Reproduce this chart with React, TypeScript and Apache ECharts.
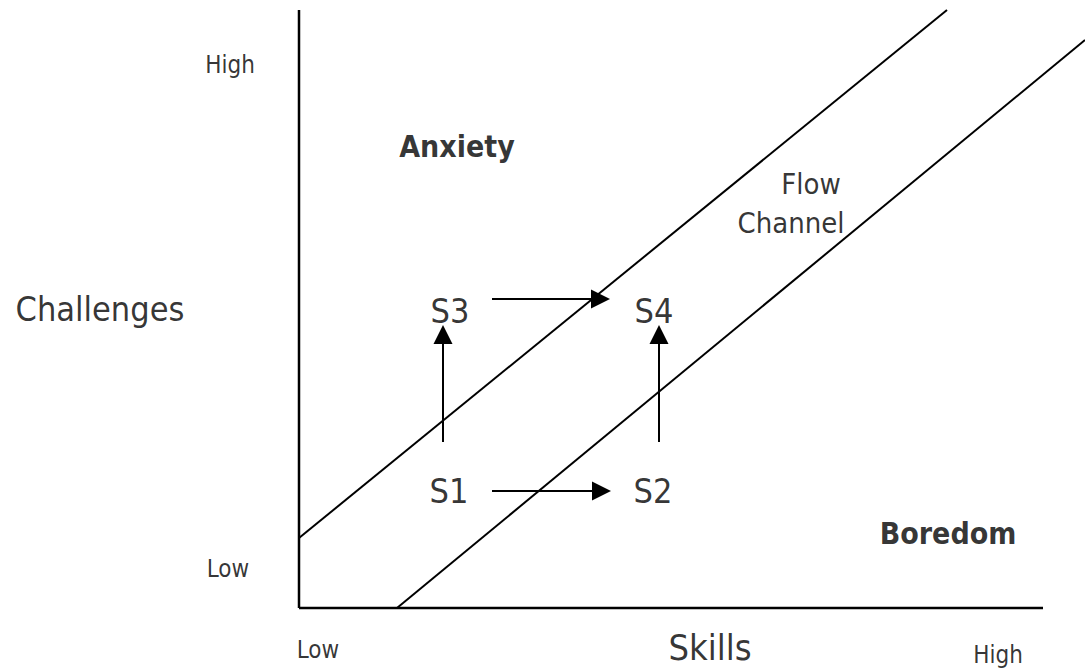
import React, { useEffect, useRef } from "react";
import * as echarts from "echarts";

const FONT = "'DejaVu Sans Condensed', 'DejaVu Sans', sans-serif";

// Data space: x = skills, y = challenges (origin at the axes' corner)
const X_MAX = 786;
const Y_MAX = 598;

const xAxisLine: number[][] = [[0, 0], [744, 0]];
const yAxisLine: number[][] = [[0, 0], [0, 598]];
const upperBoundary: number[][] = [[0, 70], [648, 598]];
const lowerBoundary: number[][] = [[98, 0], [786, 568]];

// arrows: start point and tip point
const arrowStarts: number[][] = [[193, 117], [193, 309], [144, 166], [360, 166]];
const arrowTips: number[][] = [[312, 117], [311, 309], [144, 283], [360, 283]];
const HEAD = 19;

const labelTexts = ["High", "Low", "Low", "High", "Challenges", "Skills", "Anxiety", "Flow", "Channel", "Boredom", "S1", "S2", "S3", "S4"];
const labelX = [-69, -71, 19, 699, -199, 411, 158, 512, 492, 649, 150, 354, 151, 355];
const labelY = [543, 39, -42, -47, 299, -39, 462, 424, 385, 75, 117, 117, 297, 297];
const labelSize = [24, 24, 24, 24, 34, 36, 30, 29, 29, 30, 34, 34, 34, 34];
const labelBold = [false, false, false, false, false, false, true, false, false, true, false, false, false, false];

export default function App() {
  const ref = useRef<HTMLDivElement>(null);
  useEffect(() => {
    document.body.style.margin = "0";
    const chart = echarts.init(ref.current!, null, { renderer: "svg" });

    const arrowData = arrowStarts.map((s, i) => {
      const t = arrowTips[i];
      const dx = t[0] - s[0];
      const dy = t[1] - s[1];
      const len = Math.sqrt(dx * dx + dy * dy);
      // symbol is centred on the end point: pull end back by half the head
      const end = [t[0] - (dx / len) * (HEAD / 2), t[1] - (dy / len) * (HEAD / 2)];
      return { coords: [s, end] };
    });

    const lineSeries = (data: number[][], width: number) => ({
      type: "line",
      data,
      symbol: "none",
      silent: true,
      lineStyle: { color: "#000", width },
      clip: false,
    });

    chart.setOption({
      animation: false,
      backgroundColor: "#fff",
      grid: { left: 299, top: 10, width: 786, height: 598 },
      xAxis: { type: "value", min: 0, max: X_MAX, show: false },
      yAxis: { type: "value", min: 0, max: Y_MAX, show: false },
      series: [
        lineSeries(yAxisLine, 2.5),
        lineSeries(xAxisLine, 2.5),
        lineSeries(upperBoundary, 2),
        lineSeries(lowerBoundary, 2),
        {
          type: "lines",
          coordinateSystem: "cartesian2d",
          symbol: ["none", "triangle"],
          symbolSize: HEAD,
          lineStyle: { color: "#000", width: 2, opacity: 1 },
          data: arrowData,
          silent: true,
        },
        {
          type: "scatter",
          symbolSize: 0,
          clip: false,
          silent: true,
          data: labelTexts.map((t, i) => ({
            value: [labelX[i], labelY[i]],
            label: {
              show: true,
              position: "inside",
              formatter: t,
              fontSize: labelSize[i],
              fontWeight: labelBold[i] ? "bold" : "normal",
              fontFamily: FONT,
              color: "#000",
              align: "center",
              verticalAlign: "middle",
            },
          })),
        },
      ],
    });
    return () => chart.dispose();
  }, []);
  return <div ref={ref} style={{ width: 1085, height: 668 }} />;
}
